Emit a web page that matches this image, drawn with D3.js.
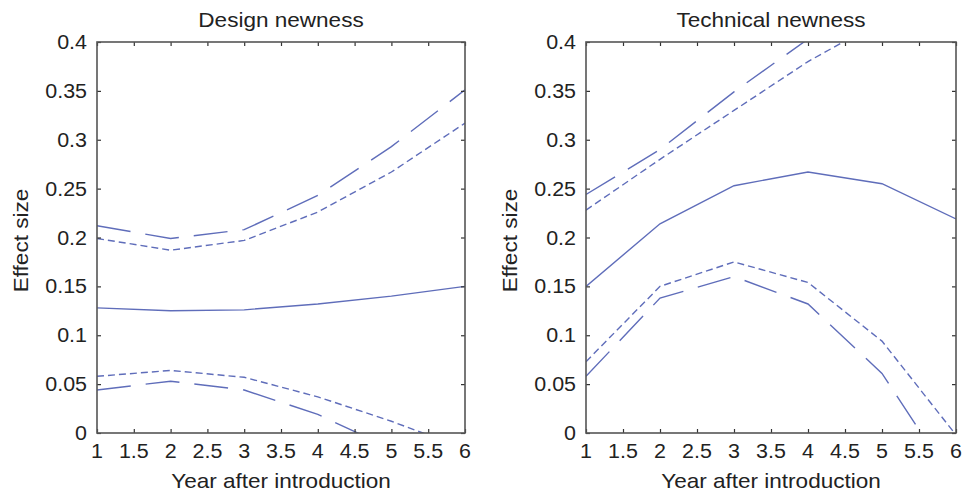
<!DOCTYPE html>
<html><head><meta charset="utf-8">
<script src="https://cdn.jsdelivr.net/npm/d3@7"></script>
<style>body{margin:0;background:#fff;} svg{display:block;}</style>
</head><body>
<svg id="c" width="966" height="494"></svg>
<script>
const years = [1, 2, 3, 4, 5, 6];
const xTicks = [1, 1.5, 2, 2.5, 3, 3.5, 4, 4.5, 5, 5.5, 6];
const yTicks = [0, 0.05, 0.1, 0.15, 0.2, 0.25, 0.3, 0.35, 0.4];
const titles = ["Design newness", "Technical newness"];
const xLabel = "Year after introduction";
const yLabel = "Effect size";

// Design newness
const designEstimate = [0.128, 0.125, 0.126, 0.132, 0.140, 0.150];
const designUpperLong = [0.212, 0.199, 0.208, 0.243, 0.293, 0.351];
const designUpperShort = [0.199, 0.187, 0.197, 0.226, 0.267, 0.317];
const designLowerShort = [0.058, 0.064, 0.057, 0.037, 0.012, -0.016];
const designLowerLong = [0.044, 0.053, 0.044, 0.019, -0.016, -0.058];

// Technical newness
const techEstimate = [0.150, 0.214, 0.253, 0.267, 0.255, 0.219];
const techUpperLong = [0.244, 0.290, 0.349, 0.403, 0.455, 0.500];
const techUpperShort = [0.228, 0.280, 0.330, 0.380, 0.422, 0.455];
const techLowerShort = [0.073, 0.150, 0.175, 0.154, 0.094, -0.002];
const techLowerLong = [0.058, 0.138, 0.160, 0.132, 0.061, -0.054];

const longDash = "34,15", shortDash = "7,4";
const panels = [
  {title: titles[0], left: 97, right: 465, series: [
    {v: designEstimate, dash: null},
    {v: designUpperLong, dash: longDash},
    {v: designUpperShort, dash: shortDash},
    {v: designLowerShort, dash: shortDash},
    {v: designLowerLong, dash: longDash}]},
  {title: titles[1], left: 586, right: 956, series: [
    {v: techEstimate, dash: null},
    {v: techUpperLong, dash: longDash},
    {v: techUpperShort, dash: shortDash},
    {v: techLowerShort, dash: shortDash},
    {v: techLowerLong, dash: longDash}]}
];

const plotTop = 42, plotBottom = 433;
const lineColor = "#5f6dba";
const axisColor = "#555";
const textColor = "#222";
const font = "'Liberation Sans', Arial, Helvetica, sans-serif";
const sx = 1.1; // horizontal text stretch
const svg = d3.select("#c");

function txt(g, x, y, s, size, anchor, rot) {
  return g.append("text")
    .attr("transform", `translate(${x},${y})` + (rot ? ` rotate(${rot})` : "") + ` scale(${sx},1)`)
    .attr("text-anchor", anchor)
    .attr("font-family", font).attr("font-size", size).attr("fill", textColor)
    .text(s);
}

panels.forEach((p, i) => {
  const x = d3.scaleLinear().domain([1, 6]).range([p.left, p.right]);
  const y = d3.scaleLinear().domain([0, 0.4]).range([plotBottom, plotTop]);
  const g = svg.append("g");

  svg.append("clipPath").attr("id", "clip" + i)
    .append("rect").attr("x", p.left).attr("y", plotTop)
    .attr("width", p.right - p.left).attr("height", plotBottom - plotTop);

  const line = d3.line().x((d, k) => x(years[k])).y(d => y(d));
  g.append("g").attr("clip-path", `url(#clip${i})`)
    .selectAll("path").data(p.series).join("path")
    .attr("d", d => line(d.v))
    .attr("fill", "none").attr("stroke", lineColor).attr("stroke-width", 1.4)
    .attr("stroke-dasharray", d => d.dash);

  const fmt = d => String(d);
  const axB = g.append("g").attr("transform", `translate(0,${plotBottom})`)
    .call(d3.axisBottom(x).tickValues(xTicks).tickSize(-4).tickFormat(""));
  const axT = g.append("g").attr("transform", `translate(0,${plotTop})`)
    .call(d3.axisTop(x).tickValues(xTicks).tickSize(-4).tickFormat(""));
  const axL = g.append("g").attr("transform", `translate(${p.left},0)`)
    .call(d3.axisLeft(y).tickValues(yTicks).tickSize(-4).tickFormat(""));
  const axR = g.append("g").attr("transform", `translate(${p.right},0)`)
    .call(d3.axisRight(y).tickValues(yTicks).tickSize(-4).tickFormat(""));
  [axB, axT, axL, axR].forEach(a => {
    a.select(".domain").remove();
    a.selectAll("line").attr("stroke", "#333").attr("stroke-width", 1.2);
  });
  g.append("rect").attr("x", p.left).attr("y", plotTop)
    .attr("width", p.right - p.left).attr("height", plotBottom - plotTop)
    .attr("fill", "none").attr("stroke", axisColor).attr("stroke-width", 1.6);

  xTicks.forEach(t => txt(g, x(t), plotBottom + 25, fmt(t), 19.5, "middle"));
  yTicks.forEach(t => txt(g, p.left - 10, y(t) + 7, fmt(t), 19.5, "end"));

  const cx = (p.left + p.right) / 2;
  txt(g, cx, 27, p.title, 20.5, "middle");
  txt(g, cx, 488, xLabel, 20.5, "middle");
  txt(g, p.left - 69, (plotTop + plotBottom) / 2 + 3, yLabel, 20.5, "middle", -90);
});
</script>
</body></html>
